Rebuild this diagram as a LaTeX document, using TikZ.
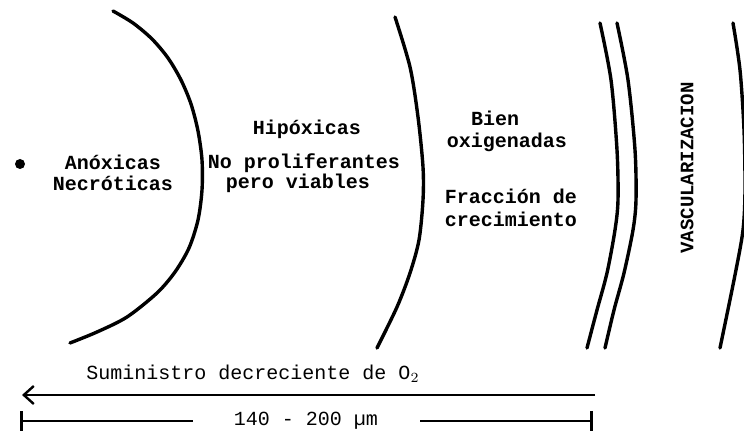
\documentclass[tikz,border=0pt]{standalone}
\usepackage{fontspec}
\setmainfont{Liberation Mono}
\usetikzlibrary{arrows.meta}

\begin{document}
\begin{tikzpicture}[x=0.5pt,y=-0.5pt,
		zone/.style={line width=1.7pt, line cap=round},
		lbl/.style={font=\fontsize{10}{12}\selectfont\bfseries, inner sep=0pt},
		txt/.style={font=\fontsize{10}{12}\selectfont, inner sep=0pt}]
		\useasboundingbox (0,0) rectangle (744,437);
		% layers of the spheroid
		\draw[zone] plot[smooth] coordinates {(113,11) (133,23) (152,39) (168,58)
			(181,80) (191,104) (198,131) (202,160) (202,190) (198,220) (189,248)
			(175,272) (157,293) (127,317) (97,332) (70,343)};
		\draw[zone] plot[smooth] coordinates {(395,17) (410,67) (418,117) (423,167)
			(423,200) (419,240) (410,273) (397,307) (377,348)};
		\draw[zone] plot[smooth] coordinates {(600,23) (611,80) (617,150) (618,200)
			(615,230) (607,273) (597,310) (587,348)};
		\draw[zone] plot[smooth] coordinates {(617,23) (628,80) (635,150) (636,200)
			(633,230) (624,273) (614,310) (605,348)};
		\draw[zone] plot[smooth] coordinates {(733,23) (740,70) (744,130) (745,190)
			(743,230) (735,275) (720,348)};
		\fill (20,164) circle (5);
		% labels
		\node[lbl] (anox) at (113,162) {Anóxicas};
		\node[lbl] (necr) at (113,183) {Necróticas};
		\node[lbl] (hipox) at (307,129) {Hipóxicas};
		\node[lbl] (nopro) at (304,163) {No proliferantes};
		\node[lbl] (viab) at (298,183) {pero viables};
		\node[lbl] (bien) at (495,118) {Bien};
		\node[lbl] (oxig) at (507,142) {oxigenadas};
		\node[lbl] (frac) at (511,196) {Fracción de};
		\node[lbl] (crec) at (511,219) {crecimiento};
		\node[lbl, rotate=90, font=\fontsize{9.5}{11}\selectfont\bfseries] (vasc)
			at (687,168) {VASCULARIZACION};
		% oxygen supply and distance
		\node[txt] (sumin) at (253,374) {Suministro decreciente de O$_2$};
		\coordinate (flowR) at (595,395);
		\coordinate (flowL) at (22,395);
		\draw[line width=1pt, -{Straight Barb[length=5pt,width=9pt,line width=1.2pt]}]
			(flowR) -- (flowL);
		\node[txt] (dist) at (306,421) {140 - 200 µm};
		\coordinate (distL) at (20,421);
		\coordinate (gapL) at (193,421);
		\coordinate (gapR) at (420,421);
		\coordinate (distR) at (593,421);
		\draw[line width=1pt, {Bar[width=10pt,line width=1.6pt]}-] (distL) -- (gapL);
		\draw[line width=1pt, -{Bar[width=10pt,line width=1.6pt]}] (gapR) -- (distR);
	\end{tikzpicture}
\end{document}
